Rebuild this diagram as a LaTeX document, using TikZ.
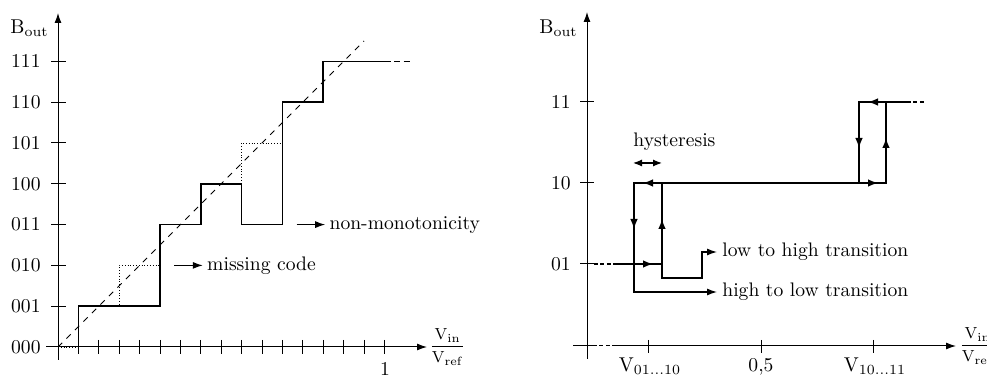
\documentclass[tikz,border=0pt]{standalone}
\usetikzlibrary{arrows.meta}
\begin{document}
\begin{tikzpicture}[x=0.5pt,y=-0.5pt,
  axis/.style={line width=0.5pt,-{Latex[length=5pt,width=3.5pt]}},
  tickmark/.style={line width=0.5pt},
  curve/.style={line width=0.8pt},
  ideal/.style={line width=0.4pt,densely dotted},
  ann/.style={line width=0.6pt,-{Latex[length=5pt,width=3.5pt]}},
  arr/.style={line width=0.8pt,-{Latex[length=5pt,width=3.8pt]}},
  lbl/.style={inner sep=0pt,font=\fontsize{9.8}{11}\selectfont},
  fraclbl/.style={inner sep=0pt,font=\fontsize{8.5}{10}\selectfont},
  smalldash/.style={dash pattern=on 2pt off 1.2pt}
]
\useasboundingbox (0,0) rectangle (987,379);

% ================= LEFT GRAPH =================
\draw[axis] (58,360) -- (58,13);
\draw[axis] (46,347) -- (427,347);
\foreach \k/\t in {0/000,1/001,2/010,3/011,4/100,5/101,6/110,7/111}{
  \draw[tickmark] (51,{347-40.8*\k}) -- (66,{347-40.8*\k});
  \node[lbl,anchor=east] (L\t) at (41,{347-40.8*\k}) {\t};
}
\foreach \k in {1,...,16}{
  \draw[tickmark] ({58+20.4*\k},340) -- ({58+20.4*\k},354);
}
\node[lbl,anchor=base] (oneL) at (385,376) {1};
\node[fraclbl,anchor=west] (fracL) at (429,347) {$\displaystyle\frac{\mathrm{V_{in}}}{\mathrm{V_{ref}}}$};
\node[lbl] (BL) at (29.5,28) {$\mathrm{B_{out}}$};

\begin{scope}[shift={(58,347)},x=10.2pt,y=20.4pt]
  \draw[ideal] (0,0) -- (1,0) -- (1,1) -- (3,1) -- (3,2) -- (5,2) -- (5,3)
     -- (7,3) -- (7,4) -- (9,4) -- (9,5) -- (11,5) -- (11,6) -- (13,6) -- (13,7) -- (16,7);
  \draw[curve] (1,0) -- (1,1) -- (5,1) -- (5,3) -- (7,3) -- (7,4) -- (9,4) -- (9,3)
     -- (11,3) -- (11,6) -- (13,6) -- (13,7) -- (16,7);
  \draw[curve,dash pattern=on 3.2pt off 1.6pt] (16,7) -- (17.4,7);
  \draw[line width=0.5pt,dashed] (0,0) -- (15,7.5);
  \coordinate (mcA) at (5.7,2);
  \coordinate (mcB) at (7.1,2);
  \coordinate (nmA) at (11.7,3);
  \coordinate (nmB) at (13.1,3);
\end{scope}
\draw[ann] (mcA) -- (mcB);
\node[lbl,anchor=west] (missing) at ([xshift=2pt]mcB) {missing code};
\draw[ann] (nmA) -- (nmB);
\node[lbl,anchor=west] (nonmono) at ([xshift=2pt]nmB) {non-monotonicity};

% ================= RIGHT GRAPH =================
\draw[axis] (587,359) -- (587,12);
\draw[line width=0.5pt] (573,346) -- (593,346);
\draw[line width=0.5pt,smalldash] (593,346) -- (613,346);
\draw[axis] (613,346) -- (956,346);
\foreach \y/\t in {264/01,183/10,102/11}{
  \draw[tickmark] (580,\y) -- (594,\y);
  \node[lbl,anchor=east] (R\t) at (571,\y) {\t};
}
\foreach \x in {648,761,873}{
  \draw[tickmark] (\x,340) -- (\x,353);
}
\node[lbl,anchor=base] (V1) at (650,372) {$\mathrm{V}_{01\ldots10}$};
\node[lbl,anchor=base] (half) at (761,372) {0,5};
\node[lbl,anchor=base] (V2) at (875,372) {$\mathrm{V}_{10\ldots11}$};
\node[fraclbl,anchor=west] (fracR) at (959,346) {$\displaystyle\frac{\mathrm{V_{in}}}{\mathrm{V_{ref}}}$};
\node[lbl] (BR) at (558.5,28) {$\mathrm{B_{out}}$};

% corners
\coordinate (a1) at (634,264); \coordinate (b1) at (662,264);
\coordinate (c1) at (662,183); \coordinate (d1) at (634,183);
\coordinate (a2) at (859,183); \coordinate (b2) at (886,183);
\coordinate (c2) at (886,102); \coordinate (d2) at (859,102);

% 01 level lead-in
\draw[curve,smalldash] (594,264) -- (613,264);
\draw[curve] (613,264) -- (a1);
% loop 1
\draw[curve] (d1) -- (a1) -- (b1) -- (c1) -- (d1) -- cycle;
\draw[arr] (634,218) -- (634,229);
\draw[arr] (642,264) -- (653,264);
\draw[arr] (662,230) -- (662,219);
\draw[arr] (654,183) -- (643,183);
% 10 level line
\draw[curve] (c1) -- (a2);
% loop 2
\draw[curve] (d2) -- (a2) -- (b2) -- (c2) -- (d2) -- cycle;
\draw[arr] (859,137) -- (859,148);
\draw[arr] (867,183) -- (878,183);
\draw[arr] (886,149) -- (886,138);
\draw[arr] (879,102) -- (868,102);
% 11 level continuation
\draw[curve] (c2) -- (907,102);
\draw[curve,smalldash] (907,102) -- (925,102);

% hysteresis
\coordinate (hA) at (633,163); \coordinate (hB) at (662,163);
\draw[line width=0.6pt,{Latex[length=4.5pt,width=3.5pt]}-{Latex[length=4.5pt,width=3.5pt]}] (hA) -- (hB);
\node[lbl,anchor=west] (hyst) at (633,142) {hysteresis};

% transition annotations
\coordinate (lhE) at (717,252);
\draw[ann] (b1) -- (662,278) -- (702,278) -- (702,252) -- (lhE);
\node[lbl,anchor=west] (lowhigh) at ([xshift=2.5pt]lhE) {low to high transition};
\coordinate (hlE) at (717,292);
\draw[ann] (a1) -- (634,292) -- (hlE);
\node[lbl,anchor=west] (highlow) at ([xshift=2.5pt]hlE) {high to low transition};
\end{tikzpicture}
\end{document}
